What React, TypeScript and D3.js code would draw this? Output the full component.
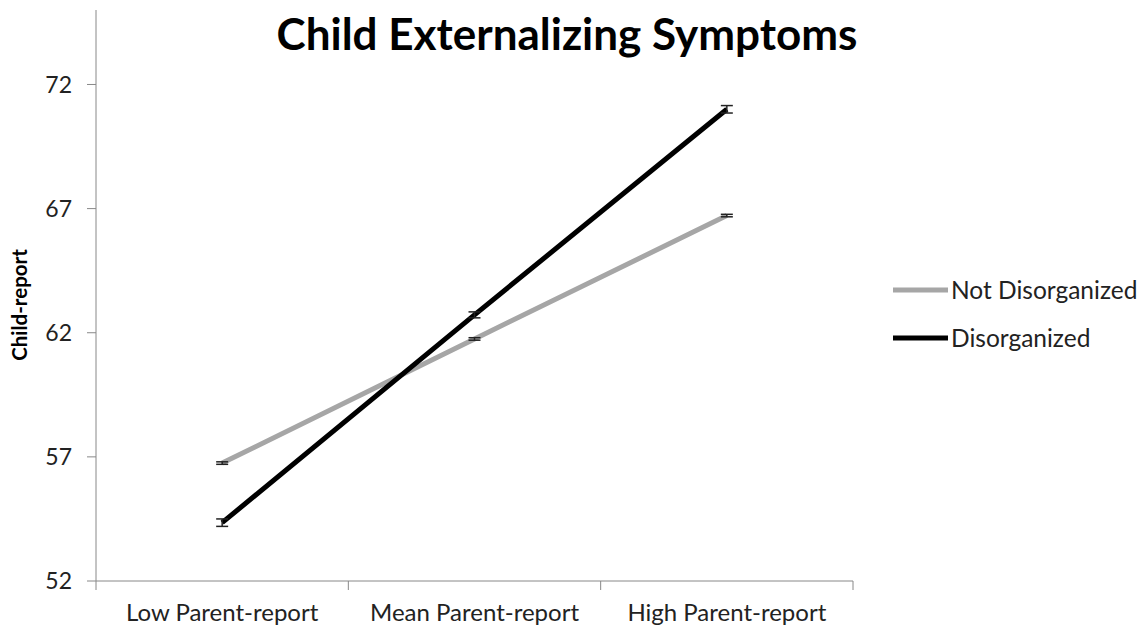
import React from "react";
import * as d3 from "d3";

const categories = ["Low Parent-report", "Mean Parent-report", "High Parent-report"];
const notDisorganized = [56.75, 61.75, 66.72];
const notDisorganizedErr = [0.05, 0.05, 0.05];
const disorganized = [54.35, 62.72, 71.0];
const disorganizedErr = [0.15, 0.12, 0.15];
const yTicks = [52, 57, 62, 67, 72];
const seriesNames = ["Not Disorganized", "Disorganized"];

const W = 1140, H = 630;
const left = 96, right = 853, top = 10, bottom = 581;
const font = "Lato, 'Open Sans', sans-serif";

export default function App() {
  const x = d3.scaleBand<string>().domain(categories).range([left, right]).padding(0);
  const y = d3.scaleLinear().domain([52, 75]).range([bottom, top]);
  const cx = (c: string) => (x(c) as number) + x.bandwidth() / 2;
  const series = [
    { name: seriesNames[0], vals: notDisorganized, err: notDisorganizedErr, color: "#a6a6a6" },
    { name: seriesNames[1], vals: disorganized, err: disorganizedErr, color: "#000000" },
  ];
  const line = d3.line<number>().x((_, i) => cx(categories[i])).y((v) => y(v));
  const xTickPos = [...categories.map((c) => x(c) as number), right];
  return (
    <svg width={W} height={H} style={{ position: "absolute", left: 0, top: 0, background: "#fff" }}>
      <rect width={W} height={H} fill="#fff" />
      <line x1={left} x2={left} y1={top} y2={bottom} stroke="#888" strokeWidth={1} />
      <line x1={left} x2={right} y1={bottom} y2={bottom} stroke="#888" strokeWidth={1} />
      {yTicks.map((t) => (
        <g key={t}>
          <line x1={left - 9} x2={left} y1={y(t)} y2={y(t)} stroke="#888" />
          <text x={72} y={y(t)} dy="0.35em" textAnchor="end" fontFamily={font} fontSize={23} fill="#222">
            {t}
          </text>
        </g>
      ))}
      {xTickPos.map((p, i) => (
        <line key={i} x1={p} x2={p} y1={bottom} y2={bottom + 9} stroke="#888" />
      ))}
      {categories.map((c) => (
        <text key={c} x={cx(c)} y={621} textAnchor="middle" fontFamily={font} fontSize={24} fill="#222">
          {c}
        </text>
      ))}
      <text
        transform={`translate(27, ${305}) rotate(-90)`}
        textAnchor="middle"
        fontFamily={font}
        fontSize={20.5}
        fontWeight="bold"
        fill="#000"
      >
        Child-report
      </text>
      <text x={567} y={50} textAnchor="middle" fontFamily={font} fontSize={44} fontWeight="bold" fill="#000">
        Child Externalizing Symptoms
      </text>
      {series.map((s) => (
        <g key={s.name}>
          <path d={line(s.vals) || ""} fill="none" stroke={s.color} strokeWidth={5} />
          {s.vals.map((v, i) => {
            const px = cx(categories[i]);
            const y1 = y(v + s.err[i]);
            const y2 = y(v - s.err[i]);
            return (
              <g key={i} stroke="#222" strokeWidth={1.5}>
                <line x1={px} x2={px} y1={y1} y2={y2} />
                <line x1={px - 6} x2={px + 6} y1={y1} y2={y1} />
                <line x1={px - 6} x2={px + 6} y1={y2} y2={y2} />
              </g>
            );
          })}
        </g>
      ))}
      {series.map((s, i) => (
        <g key={s.name} transform={`translate(893, ${290 + i * 48})`}>
          <line x1={0} x2={55} y1={0} y2={0} stroke={s.color} strokeWidth={5} />
          <text x={58} y={0} dy="0.35em" fontFamily={font} fontSize={24.5} fill="#222">
            {s.name}
          </text>
        </g>
      ))}
    </svg>
  );
}
